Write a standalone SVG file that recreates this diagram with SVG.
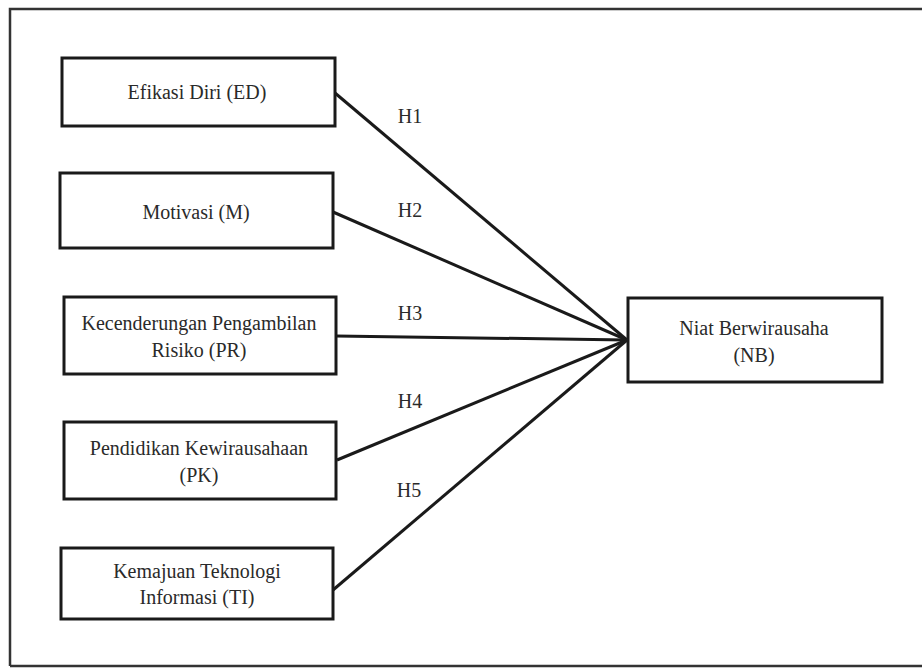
<svg xmlns="http://www.w3.org/2000/svg" width="922" height="668" viewBox="0 0 922 668">
<style>
.box{fill:#fff;stroke:#1a1a1a;stroke-width:3}
.frame{fill:none;stroke:#333;stroke-width:2.5}
.c{stroke:#1a1a1a;stroke-width:3;fill:none}
</style>
<rect width="922" height="668" fill="#fff"/>
<path class="frame" d="M10,666 L10,9 L924,9 M10,666 L924,666"/>
<g id="connectors">
<line class="c" x1="335" y1="93" x2="627" y2="340"/>
<line class="c" x1="333" y1="212" x2="627" y2="340"/>
<line class="c" x1="336" y1="336" x2="627" y2="340"/>
<line class="c" x1="337" y1="460" x2="627" y2="340"/>
<line class="c" x1="333" y1="590" x2="627" y2="340"/>
<g font-family="Liberation Serif, Times New Roman, serif" font-size="20" fill="#2a2a2a" text-anchor="middle">
<text x="410" y="123">H1</text>
<text x="410" y="217">H2</text>
<text x="410" y="320">H3</text>
<text x="410" y="408">H4</text>
<text x="409" y="497">H5</text>
</g>
</g>
<g font-family="Liberation Serif, Times New Roman, serif" font-size="20" fill="#2a2a2a" text-anchor="middle">
<g id="ED">
<rect class="box" x="62" y="58" width="273" height="68"/>
<text x="197" y="99">Efikasi Diri (ED)</text>
</g>
<g id="M">
<rect class="box" x="60" y="173" width="273" height="75"/>
<text x="196" y="219">Motivasi (M)</text>
</g>
<g id="PR">
<rect class="box" x="64" y="297" width="272" height="77"/>
<text x="199" y="330">Kecenderungan Pengambilan</text>
<text x="199" y="357">Risiko (PR)</text>
</g>
<g id="PK">
<rect class="box" x="64" y="422" width="272" height="77"/>
<text x="199" y="455">Pendidikan Kewirausahaan</text>
<text x="199" y="482">(PK)</text>
</g>
<g id="TI">
<rect class="box" x="61" y="548" width="272" height="71"/>
<text x="197" y="578">Kemajuan Teknologi</text>
<text x="197" y="604">Informasi (TI)</text>
</g>
<g id="NB">
<rect class="box" x="628" y="298" width="254" height="84"/>
<text x="754" y="335">Niat Berwirausaha</text>
<text x="754" y="362">(NB)</text>
</g>
</g>
</svg>
